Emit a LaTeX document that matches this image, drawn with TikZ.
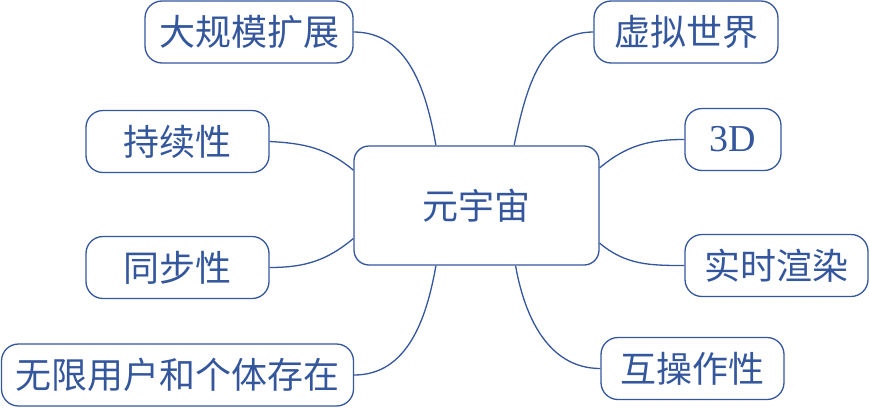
\documentclass[tikz,border=0pt]{standalone}
\usepackage{fontspec}
\setmainfont{Liberation Serif}
\newfontfamily\cjk{Noto Sans CJK SC}
\definecolor{mmblue}{RGB}{52,86,156}
\begin{document}
\begin{tikzpicture}[x=1pt,y=-1pt,
	box/.style={draw=mmblue,line width=1.3pt,rounded corners=17pt,text=mmblue,
		minimum height=62pt,inner sep=0pt,font=\fontsize{36}{40}\selectfont\cjk},
	link/.style={draw=mmblue,line width=1.3pt}]
		\useasboundingbox (0,0) rectangle (870,407);
		\node[box,minimum width=245pt,minimum height=119pt,rounded corners=15pt] (hub) at (476.5,205.5) {元宇宙};
		\node[box,minimum width=208pt] (scale) at (249,32) {大规模扩展};
		\node[box,minimum width=183pt] (persist) at (177.5,141.5) {持续性};
		\node[box,minimum width=183pt] (sync) at (177.5,267.5) {同步性};
		\node[box,minimum width=352pt] (users) at (177.5,375) {无限用户和个体存在};
		\node[box,minimum width=184pt] (virtual) at (686,32) {虚拟世界};
		\node[box,minimum width=96pt,font=\fontsize{38}{40}\selectfont] (threed) at (733,139.5) {3D};
		\node[box,minimum width=183pt] (render) at (776.5,265.5) {实时渲染};
		\node[box,minimum width=183pt] (interop) at (692.5,368.5) {互操作性};
		% left branches
		\draw[link] (scale.east) to[out=0,in=100] (hub.124);
		\draw[link] (persist.east) to[out=-3,in=140] (hub.164);
		\draw[link] (sync.east) to[out=0,in=220] (hub.195);
		\draw[link] (users.east) to[out=0,in=260] (hub.236);
		% right branches
		\draw[link] (virtual.west) to[out=180,in=78] (hub.58);
		\draw[link] (threed.west) to[out=180,in=40] (hub.17);
		\draw[link] (render.west) to[out=180,in=-40] (hub.343);
		\draw[link] (interop.west) to[out=180,in=280] (hub.303);
\end{tikzpicture}
\end{document}
